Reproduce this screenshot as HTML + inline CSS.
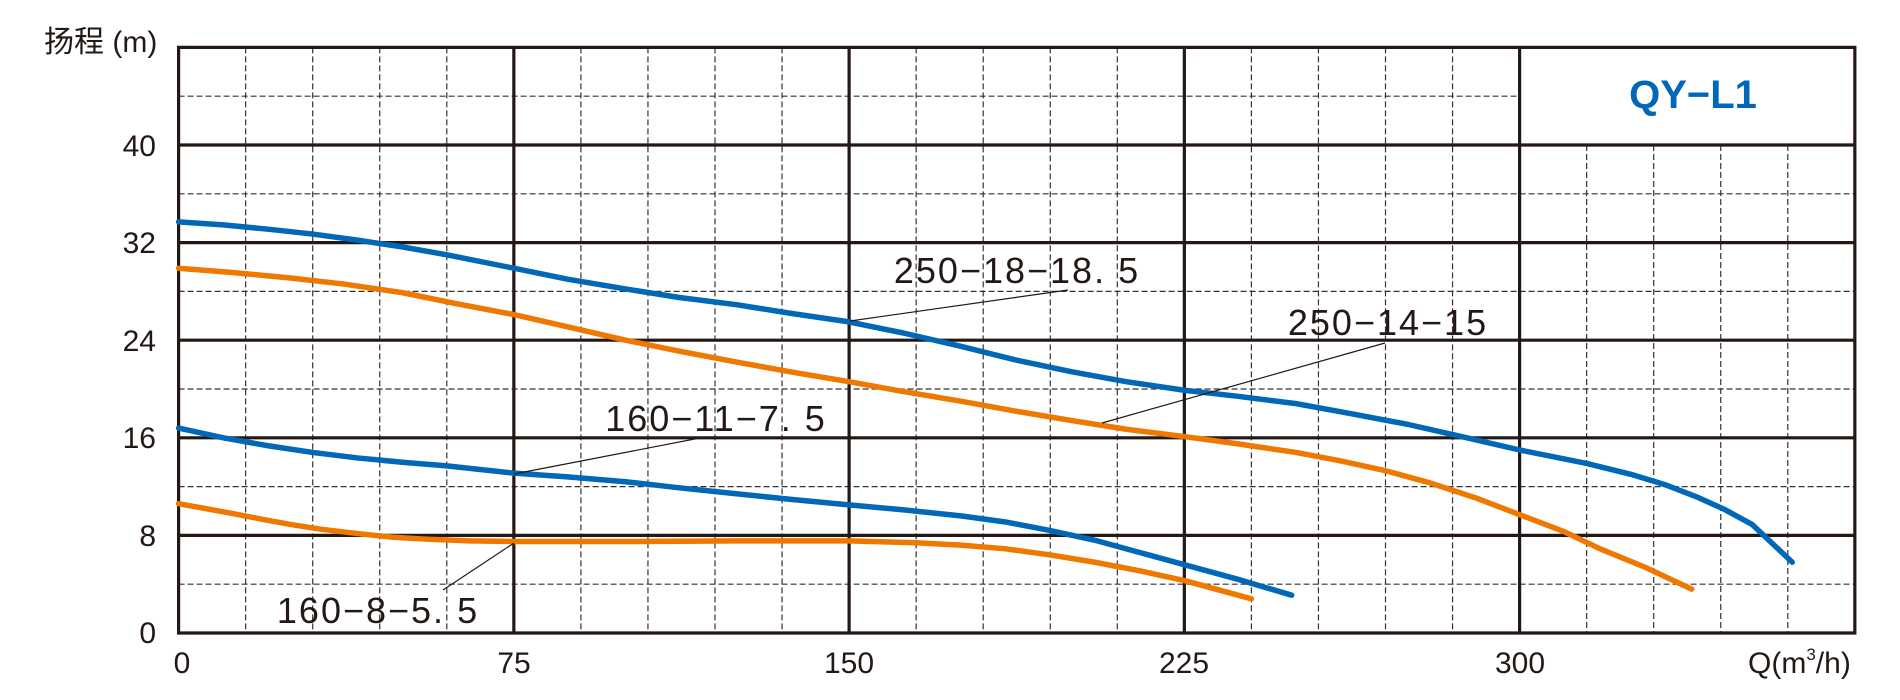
<!DOCTYPE html>
<html><head><meta charset="utf-8"><style>
html,body{margin:0;padding:0;background:#fff}
svg{display:block}
text{font-family:"Liberation Sans","Noto Sans CJK SC",sans-serif;fill:#231815}
</style></head><body>
<svg width="1900" height="700" viewBox="0 0 1900 700" xmlns="http://www.w3.org/2000/svg">
<g stroke="#333" stroke-width="1.2" stroke-dasharray="6 3" fill="none">
<path d="M245.65 47.4V633M312.7 47.4V633M379.75 47.4V633M446.8 47.4V633M580.9 47.4V633M647.95 47.4V633M715 47.4V633M782.05 47.4V633M916.15 47.4V633M983.2 47.4V633M1050.25 47.4V633M1117.3 47.4V633M1251.4 47.4V633M1318.45 47.4V633M1385.5 47.4V633M1452.55 47.4V633"/>
<path d="M1586.65 145V633M1653.7 145V633M1720.75 145V633M1787.8 145V633"/>
<path d="M178.6 96.2H1519.6M178.6 193.8H1854.85M178.6 291.4H1854.85M178.6 389H1854.85M178.6 486.6H1854.85M178.6 584.2H1854.85"/>
</g>
<g stroke="#231815" stroke-width="3.2" fill="none">
<path d="M178.6 47.4H1854.85V633H178.6Z"/>
<path d="M513.85 47.4V633M849.1 47.4V633M1184.35 47.4V633M1519.6 47.4V633"/>
<path d="M178.6 145H1854.85M178.6 242.6H1854.85M178.6 340.2H1854.85M178.6 437.8H1854.85M178.6 535.4H1854.85"/>
</g>
<g transform="translate(178.6 633) scale(4.47 -12.2)" fill="none" stroke-linecap="round" stroke-linejoin="round">
<polyline vector-effect="non-scaling-stroke" stroke="#0068b7" stroke-width="5.5" points="0,33.7 10,33.45 20,33.1 30,32.7 40,32.2 50,31.65 60,31.0 75,29.9 87,29.0 100,28.2 112,27.5 125,26.9 137,26.2 150,25.5 162,24.6 175,23.5 187,22.4 200,21.4 212,20.6 225,19.9 237,19.4 250,18.8 262,18.0 275,17.1 287,16.1 300,15.0 315,13.9 325,13.0 333,12.1 340,11.1 346,10.1 352,8.9 361,5.8"/>
<polyline vector-effect="non-scaling-stroke" stroke="#ee7800" stroke-width="5.5" points="0,29.9 12,29.55 25,29.1 37,28.6 50,27.9 62,27.0 75,26.1 87,25.1 100,24.0 112,23.1 125,22.2 137,21.4 150,20.6 162,19.8 175,19.0 187,18.2 200,17.4 212,16.7 225,16.1 237,15.5 250,14.8 260,14.1 270,13.3 280,12.3 290,11.1 300,9.7 310,8.3 318,6.9 328,5.4 338.5,3.6"/>
<polyline vector-effect="non-scaling-stroke" stroke="#0068b7" stroke-width="5.5" points="0,16.8 10,16.0 20,15.35 30,14.8 40,14.35 50,14.0 60,13.7 75,13.1 87,12.8 100,12.4 112,11.9 125,11.4 137,10.95 150,10.5 162,10.1 175,9.6 185,9.1 195,8.4 205,7.6 215,6.6 225,5.6 237,4.4 249,3.1"/>
<polyline vector-effect="non-scaling-stroke" stroke="#ee7800" stroke-width="5.5" points="0,10.6 6,10.2 12,9.8 19,9.3 25,8.9 32,8.5 40,8.15 48,7.85 55,7.7 65,7.55 75,7.5 100,7.5 125,7.55 150,7.55 165,7.4 175,7.2 185,6.9 195,6.4 205,5.8 215,5.1 225,4.3 240,2.8"/>
</g>
<g stroke="#231815" stroke-width="1.2">
<line x1="850" y1="321" x2="1068" y2="290"/>
<line x1="1102" y1="423" x2="1385" y2="343"/>
<line x1="514" y1="474" x2="705" y2="437"/>
<line x1="514" y1="543" x2="443" y2="590"/>
</g>
<g font-size="36" text-anchor="middle" letter-spacing="2">
<text x="1017" y="283">250−18−18. 5</text>
<text x="1388" y="335">250−14−15</text>
<text x="716" y="431">160−11−7. 5</text>
<text x="378" y="623">160−8−5. 5</text>
</g>
<text x="1693" y="108" font-size="40" font-weight="bold" text-anchor="middle" style="fill:#0068b7">QY−L1</text>
<g font-size="30" text-anchor="end">
<text x="156" y="156">40</text>
<text x="156" y="253">32</text>
<text x="156" y="351">24</text>
<text x="156" y="448">16</text>
<text x="156" y="546">8</text>
<text x="156" y="643">0</text>
</g>
<g font-size="30" text-anchor="middle">
<text x="182" y="673">0</text>
<text x="514" y="673">75</text>
<text x="849" y="673">150</text>
<text x="1184" y="673">225</text>
<text x="1520" y="673">300</text>
</g>
<text x="1748" y="673" font-size="30">Q(m<tspan font-size="17" dy="-13">3</tspan><tspan dy="13">/h)</tspan></text>
<text x="44" y="52" font-size="30">扬程 (m)</text>
</svg>
</body></html>
